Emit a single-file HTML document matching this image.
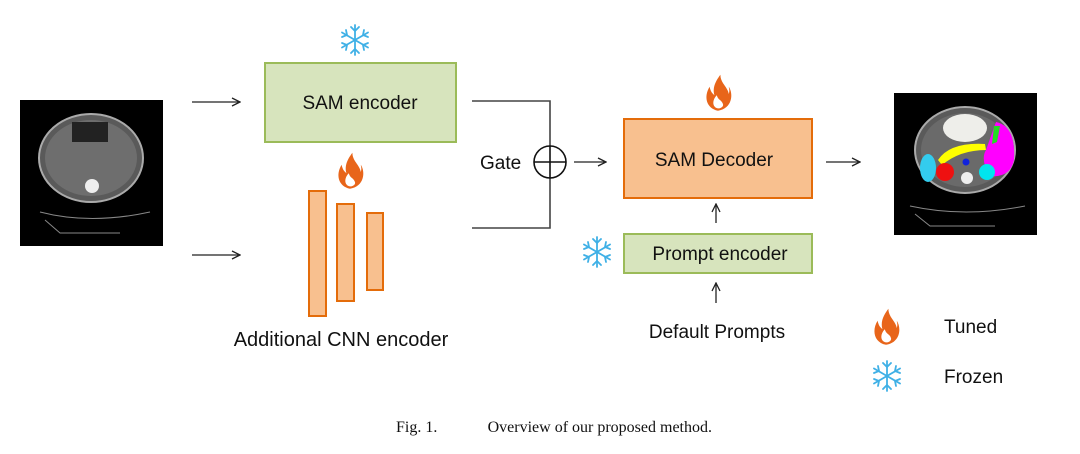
<!DOCTYPE html>
<html><head><meta charset="utf-8"><style>
html,body{margin:0;padding:0;background:#fff;}
svg{display:block;}
text{font-family:"Liberation Sans",sans-serif;fill:#111;}
</style></head><body>
<svg width="1080" height="454" viewBox="0 0 1080 454" xmlns="http://www.w3.org/2000/svg">
<defs>
<marker id="ah" markerWidth="10" markerHeight="10" refX="9" refY="5" orient="auto" markerUnits="userSpaceOnUse">
<path d="M1,1 L9,5 L1,9" fill="none" stroke="#222" stroke-width="1.3"/>
</marker>
<g id="flame" transform="scale(1.2)">
<path d="M0,14 C-10,12 -12,2 -7,-6 C-6,-1 -4,0 -3,1 C-5,-6 -1,-12 2,-16 C2,-9 8,-6 9,0 C10,-3 9,-5 9,-6 C13,0 12,12 0,14 Z" fill="#e8651a"/>
<path d="M0,12 C-5,11 -5,5 -1,1 C0,5 3,5 4,8 C5,10 3,12 0,12 Z" fill="#fff"/>
</g>
<g id="snow" stroke="#3fb0e6" stroke-width="1.8" fill="none" stroke-linecap="round">
<line x1="0" y1="-15" x2="0" y2="15"/>
<line x1="-13" y1="-7.5" x2="13" y2="7.5"/>
<line x1="-13" y1="7.5" x2="13" y2="-7.5"/>
<path d="M-4,-13 L0,-9 L4,-13 M-4,13 L0,9 L4,13"/>
<path d="M-13,-3 L-8,-5 L-9,-10 M13,3 L8,5 L9,10"/>
<path d="M-13,3 L-8,5 L-9,10 M13,-3 L8,-5 L9,-10"/>
</g>
</defs>

<rect x="20" y="100" width="143" height="146" fill="#000"/>
<ellipse cx="91" cy="158" rx="52" ry="44" fill="#5a5a5a" stroke="#aaa" stroke-width="2"/>
<ellipse cx="91" cy="158" rx="46" ry="38" fill="#6e6e6e"/>
<rect x="72" y="122" width="36" height="20" fill="#222"/>
<circle cx="92" cy="186" r="7" fill="#eee"/>
<path d="M40,212 Q90,225 150,212" stroke="#888" fill="none"/>
<path d="M45,220 L60,233 L120,233" stroke="#888" fill="none"/>

<line x1="192" y1="102" x2="240" y2="102" stroke="#222" stroke-width="1.3" marker-end="url(#ah)"/>
<line x1="192" y1="255" x2="240" y2="255" stroke="#222" stroke-width="1.3" marker-end="url(#ah)"/>

<use href="#snow" x="355" y="40"/>
<rect x="265" y="63" width="191" height="79" fill="#d7e4bd" stroke="#9bbb59" stroke-width="2"/>
<text x="360" y="109" font-size="19" text-anchor="middle">SAM encoder</text>

<use href="#flame" x="350" y="172"/>
<rect x="309" y="191" width="17" height="125" fill="#f8c08f" stroke="#e46c0a" stroke-width="2"/>
<rect x="337" y="204" width="17" height="97" fill="#f8c08f" stroke="#e46c0a" stroke-width="2"/>
<rect x="367" y="213" width="16" height="77" fill="#f8c08f" stroke="#e46c0a" stroke-width="2"/>
<text x="341" y="346" font-size="20" text-anchor="middle">Additional CNN encoder</text>

<polyline points="472,101 550,101 550,146" fill="none" stroke="#444" stroke-width="1.6"/>
<polyline points="472,228 550,228 550,178" fill="none" stroke="#444" stroke-width="1.6"/>
<circle cx="550" cy="162" r="16" fill="none" stroke="#111" stroke-width="1.6"/>
<line x1="534" y1="162" x2="566" y2="162" stroke="#111" stroke-width="1.6"/>
<line x1="550" y1="146" x2="550" y2="178" stroke="#111" stroke-width="1.6"/>
<text x="480" y="169" font-size="19">Gate</text>
<line x1="574" y1="162" x2="606" y2="162" stroke="#222" stroke-width="1.3" marker-end="url(#ah)"/>

<use href="#flame" x="718" y="94"/>
<rect x="624" y="119" width="188" height="79" fill="#f8c08f" stroke="#e46c0a" stroke-width="2"/>
<text x="714" y="166" font-size="19" text-anchor="middle">SAM Decoder</text>
<line x1="716" y1="223" x2="716" y2="204" stroke="#222" stroke-width="1.3" marker-end="url(#ah)"/>
<use href="#snow" x="597" y="252"/>
<rect x="624" y="234" width="188" height="39" fill="#d7e4bd" stroke="#9bbb59" stroke-width="2"/>
<text x="720" y="260" font-size="19" text-anchor="middle">Prompt encoder</text>
<line x1="716" y1="303" x2="716" y2="283" stroke="#222" stroke-width="1.3" marker-end="url(#ah)"/>
<text x="717" y="338" font-size="19" text-anchor="middle">Default Prompts</text>
<line x1="826" y1="162" x2="860" y2="162" stroke="#222" stroke-width="1.3" marker-end="url(#ah)"/>

<rect x="894" y="93" width="143" height="142" fill="#000"/>
<ellipse cx="965" cy="150" rx="50" ry="43" fill="#5a5a5a" stroke="#aaa" stroke-width="2"/>
<ellipse cx="965" cy="150" rx="44" ry="37" fill="#6a6a6a"/>
<ellipse cx="965" cy="128" rx="22" ry="14" fill="#eeeeea"/>
<path d="M996,122 Q1016,126 1014,160 Q1010,178 990,176 Q980,160 986,150 Z" fill="#ff00ff"/>
<path d="M994,126 L1000,126 L997,142 L992,144 Z" fill="#22dd22"/>
<path d="M938,160 Q950,142 985,144 L986,150 Q960,150 942,165 Z" fill="#ffff00"/>
<ellipse cx="928" cy="168" rx="8" ry="14" fill="#33ccee"/>
<ellipse cx="945" cy="172" rx="9" ry="9" fill="#ee1111"/>
<ellipse cx="987" cy="172" rx="8" ry="8" fill="#00e5ee"/>
<circle cx="966" cy="162" r="3.5" fill="#1122dd"/>
<circle cx="967" cy="178" r="6" fill="#eee"/>
<path d="M910,206 Q965,218 1025,206" stroke="#888" fill="none"/>
<path d="M915,214 L930,226 L995,226" stroke="#888" fill="none"/>

<use href="#flame" x="886" y="328"/>
<text x="944" y="333" font-size="19">Tuned</text>
<use href="#snow" x="887" y="376"/>
<text x="944" y="383" font-size="19">Frozen</text>

<text x="396" y="432" font-size="16" style="font-family:'Liberation Serif',serif">Fig. 1.</text>
<text x="712" y="432" font-size="16" text-anchor="end" style="font-family:'Liberation Serif',serif">Overview of our proposed method.</text>
</svg>
</body></html>
